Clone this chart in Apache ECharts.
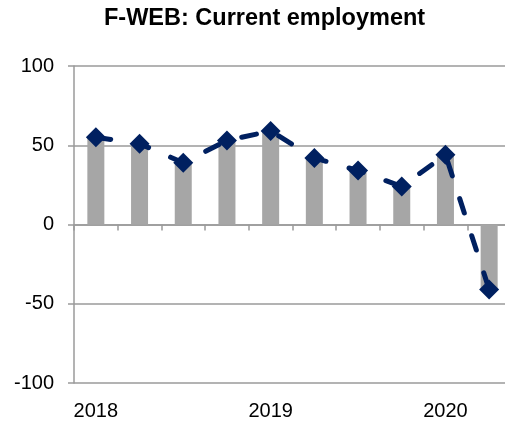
<!DOCTYPE html>
<html>
<head>
<meta charset="utf-8">
<script src="https://cdn.jsdelivr.net/npm/echarts@6/dist/echarts.min.js"></script>
<style>
  html, body { margin: 0; padding: 0; background: #fff; }
  #chart { width: 505px; height: 421px; }
</style>
</head>
<body>
<div id="chart"></div>
<script>
// quarterly data, Q1 2018 .. Q2 2020
var quarters = ['2018 Q1', '2018 Q2', '2018 Q3', '2018 Q4', '2019 Q1', '2019 Q2', '2019 Q3', '2019 Q4', '2020 Q1', '2020 Q2'];
var barValues = [55, 51, 39, 53, 59, 42, 34, 24, 44, -41];
var lineValues = [55, 51, 39, 53, 59, 42, 34, 24, 44, -41];
var yearTicks = ['2018', '', '', '', '2019', '', '', '', '2020', ''];
var yTicks = [-100, -50, 0, 50, 100];

var grey = '#9a9a9a';
var font = 'Liberation Sans, Arial, sans-serif';

var chart = echarts.init(document.getElementById('chart'));
chart.setOption({
  animation: false,
  title: {
    text: 'F-WEB: Current employment',
    left: 104,
    top: 7,
    padding: 0,
    textStyle: { fontFamily: font, fontSize: 23.5, fontWeight: 'bold', color: '#000' }
  },
  // plot runs a little past the right edge of the window
  grid: { left: 74, top: 66, bottom: 38, width: 437, outerBoundsMode: 'none' },
  xAxis: [
    {
      // zero line with ticks between quarters
      type: 'category',
      data: quarters,
      position: 'bottom',
      axisLine: { show: true, onZero: true, lineStyle: { color: grey, width: 1.5 } },
      axisTick: { show: true, interval: 0, length: 6, lineStyle: { color: grey, width: 1.5 } },
      axisLabel: { show: false }
    },
    {
      // year labels under the plot
      type: 'category',
      data: quarters,
      position: 'bottom',
      axisLine: { show: false, onZero: false },
      axisTick: { show: false },
      axisLabel: {
        interval: 0,
        margin: 18,
        fontFamily: font,
        fontSize: 20,
        color: '#000',
        formatter: function (v, i) { return yearTicks[i]; }
      }
    }
  ],
  yAxis: {
    type: 'value',
    min: yTicks[0],
    max: yTicks[yTicks.length - 1],
    interval: 50,
    axisLine: { show: true, lineStyle: { color: grey, width: 1.5 } },
    axisTick: { show: true, length: 6, lineStyle: { color: grey, width: 1.5 } },
    axisLabel: { margin: 20, fontFamily: font, fontSize: 20, color: '#000' },
    splitLine: { show: true, lineStyle: { color: grey, width: 1.5 } }
  },
  series: [
    {
      type: 'bar',
      xAxisIndex: 0,
      data: barValues,
      barWidth: 17,
      itemStyle: { color: '#a6a6a6' },
      z: 2
    },
    {
      type: 'line',
      xAxisIndex: 0,
      data: lineValues,
      symbol: 'diamond',
      symbolSize: 20,
      lineStyle: { color: '#002060', width: 5, type: [15, 24], cap: 'round' },
      itemStyle: { color: '#002060' },
      z: 3
    }
  ]
});
</script>
</body>
</html>
